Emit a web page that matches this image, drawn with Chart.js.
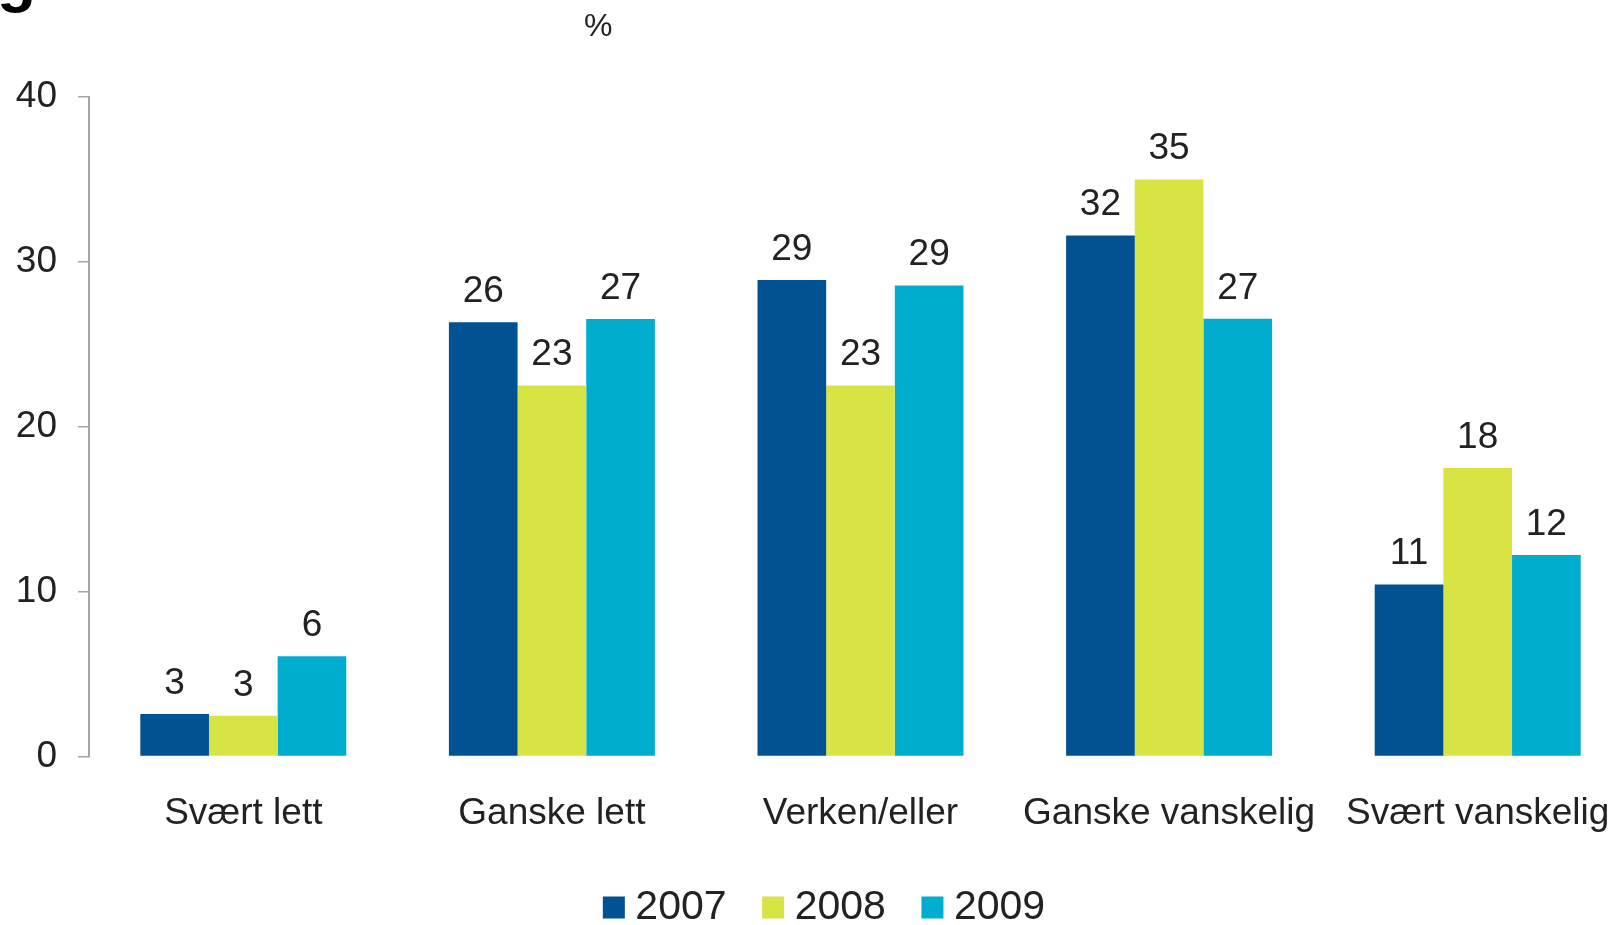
<!DOCTYPE html>
<html>
<head>
<meta charset="utf-8">
<script src="https://cdn.jsdelivr.net/npm/chart.js@4/dist/chart.umd.min.js"></script>
<style>
    html, body { margin: 0; padding: 0; background: #fff; overflow: hidden; }
    #wrap { position: absolute; left: 0; top: 0; width: 1632px; height: 938px; }
    .corner-g { position: absolute; left: -3px; top: -54px; font: bold 64px/1 'Liberation Sans', Arial, sans-serif; color: #000; }
    .unit { position: absolute; left: 584px; top: 6px; font: 32px/1.2 'Liberation Sans', Arial, sans-serif; color: #222; }
</style>
</head>
<body>
<div id="wrap">
    <canvas id="chart" width="1632" height="938"></canvas>
</div>
<div class="corner-g">g</div>
<div class="unit">%</div>
<script>
// Data
const categories = ['Svært lett', 'Ganske lett', 'Verken/eller', 'Ganske vanskelig', 'Svært vanskelig'];
const seriesNames = ['2007', '2008', '2009'];
const values2007 = [2.57, 26.33, 28.9, 31.6, 10.43];
const values2008 = [2.47, 22.5, 22.5, 35.0, 17.5];
const values2009 = [6.08, 26.53, 28.57, 26.55, 12.22];
// printed labels (rounded in the source)
const labels2007 = ['3', '26', '29', '32', '11'];
const labels2008 = ['3', '23', '23', '35', '18'];
const labels2009 = ['6', '27', '29', '27', '12'];
const yTicks = [0, 10, 20, 30, 40];

const colors = ['#005293', '#d8e444', '#00adcf'];
const textColor = '#222';
const fontFamily = "'Liberation Sans', Arial, sans-serif";

const seriesValues = [values2007, values2008, values2009];
const seriesLabels = [labels2007, labels2008, labels2009];

// value labels over each bar
const barLabels = {
    id: 'barLabels',
    afterDatasetsDraw(chart) {
        const ctx = chart.ctx;
        ctx.save();
        ctx.font = '37px ' + fontFamily;
        ctx.fillStyle = textColor;
        ctx.textAlign = 'center';
        ctx.textBaseline = 'alphabetic';
        chart.data.datasets.forEach((ds, i) => {
            const meta = chart.getDatasetMeta(i);
            meta.data.forEach((bar, j) => {
                ctx.fillText(seriesLabels[i][j], bar.x, bar.y - 20);
            });
        });
        ctx.restore();
    }
};

// nudge the legend a bit to the right, like the original
const legendShift = {
    id: 'legendShift',
    afterLayout(chart) {
        chart.legend.left += 13;
        chart.legend.right += 13;
    }
};

new Chart(document.getElementById('chart'), {
    type: 'bar',
    data: {
        labels: categories,
        datasets: seriesNames.map((name, i) => ({
            label: name,
            data: seriesValues[i],
            backgroundColor: colors[i],
            borderWidth: 0,
            categoryPercentage: 0.6675,
            barPercentage: 1
        }))
    },
    options: {
        responsive: false,
        animation: false,
        devicePixelRatio: 1,
        layout: { padding: { left: 0, right: 0, top: 97, bottom: 0 } },
        scales: {
            x: {
                grid: { display: false, drawTicks: false },
                border: { display: false },
                // tall line height pushes labels down without adding side padding
                ticks: { color: textColor, font: { family: fontFamily, size: 37, lineHeight: 3.08 }, padding: 0, maxRotation: 0, autoSkip: false },
                afterFit: scale => { scale.height = 85; }
            },
            y: {
                min: 0,
                max: 40,
                afterBuildTicks: scale => { scale.ticks = yTicks.map(v => ({ value: v })); },
                grid: { drawOnChartArea: false, drawTicks: true, tickLength: 11, color: '#a6a6a6', lineWidth: 1.5 },
                border: { display: true, color: '#a6a6a6', width: 2 },
                ticks: { color: textColor, font: { family: fontFamily, size: 37 }, padding: 21 },
                afterFit: scale => { scale.width = 89; }
            }
        },
        plugins: {
            legend: {
                position: 'bottom',
                labels: {
                    usePointStyle: true,
                    pointStyle: 'rect',
                    boxWidth: 2,
                    boxHeight: 22,
                    padding: 45.6,
                    color: textColor,
                    font: { family: fontFamily, size: 41 }
                }
            },
            tooltip: { enabled: false }
        }
    },
    plugins: [barLabels, legendShift]
});
</script>
</body>
</html>
